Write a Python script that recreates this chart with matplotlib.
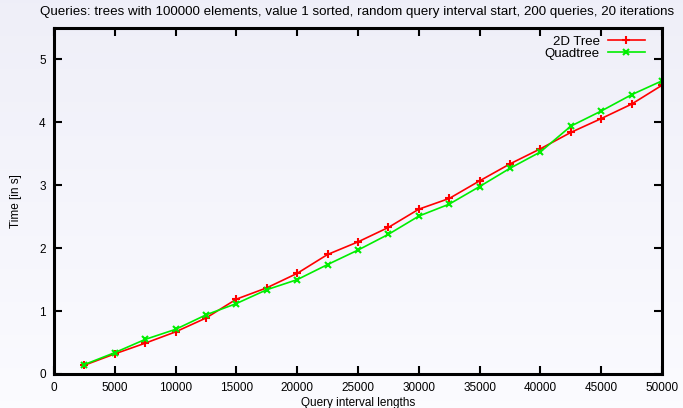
import numpy as np
import matplotlib
matplotlib.use("Agg")
import matplotlib.pyplot as plt

plt.rcParams['font.family'] = ['Liberation Sans', 'DejaVu Sans']

x_vals = [2500, 5000, 7500, 10000, 12500, 15000, 17500, 20000, 22500, 25000,
          27500, 30000, 32500, 35000, 37500, 40000, 42500, 45000, 47500, 50000]
tree2d = [0.14, 0.32, 0.49, 0.67, 0.89, 1.19, 1.37, 1.60, 1.90, 2.10,
          2.33, 2.62, 2.79, 3.07, 3.34, 3.58, 3.84, 4.06, 4.29, 4.59]
quadtree = [0.15, 0.34, 0.55, 0.71, 0.94, 1.12, 1.34, 1.50, 1.74, 1.97,
            2.22, 2.51, 2.70, 2.98, 3.27, 3.53, 3.94, 4.18, 4.44, 4.66]
x_ticks = [0, 5000, 10000, 15000, 20000, 25000, 30000, 35000, 40000, 45000, 50000]
y_ticks = [0, 1, 2, 3, 4, 5]

W, H = 683, 408
fig = plt.figure(figsize=(W / 100, H / 100), dpi=100)

# background gradient
bg = fig.add_axes([0, 0, 1, 1], zorder=-10)
grad = np.linspace(0, 1, 256).reshape(-1, 1)
top = np.array([0.937, 0.937, 0.973])
bot = np.array([0.985, 0.985, 1.0])
img = top[None, None, :] * (1 - grad[:, :, None]) + bot[None, None, :] * grad[:, :, None]
bg.imshow(img, aspect='auto', extent=[0, 1, 0, 1])
bg.axis('off')

ax = fig.add_axes([54 / W, 1 - 374 / H, (662 - 54) / W, (374 - 28) / H])
ax.patch.set_alpha(0)

ax.plot(x_vals, tree2d, color='#ff0000', marker='+', markersize=5.5, markeredgewidth=1.5,
        linewidth=1.2, label='2D Tree')
ax.plot(x_vals, quadtree, color='#00ee00', marker='x', markersize=4.5, markeredgewidth=1.5,
        linewidth=1.2, label='Quadtree')

ax.set_xlim(0, 50000)
ax.set_ylim(0, 5.5)
ax.set_xticks(x_ticks)
ax.set_xticklabels([str(v) for v in x_ticks])
ax.set_yticks(y_ticks)
ax.set_yticklabels([str(v) for v in y_ticks])
ax.tick_params(direction='in', length=6, width=1.5, top=True, right=True,
               labelsize=8.5, pad=6, colors='black')
for s in ax.spines.values():
    s.set_linewidth(2.2)
    s.set_color('black')

ax.set_xlabel('Query interval lengths', fontsize=8.5, labelpad=2)
ax.set_ylabel('Time [in s]', fontsize=8.5, labelpad=12)
fig.text(357 / W, 1 - 12 / H,
         'Queries: trees with 100000 elements, value 1 sorted, random query interval start, 200 queries, 20 iterations',
         ha='center', va='center', fontsize=9.6)

leg = ax.legend(loc='upper right', frameon=False, fontsize=9.5, handlelength=2.8,
                handletextpad=0.6, markerfirst=False, borderaxespad=0.0,
                labelspacing=-0.04, bbox_to_anchor=(0.980, 0.993))

fig.savefig('out.png', dpi=100)
